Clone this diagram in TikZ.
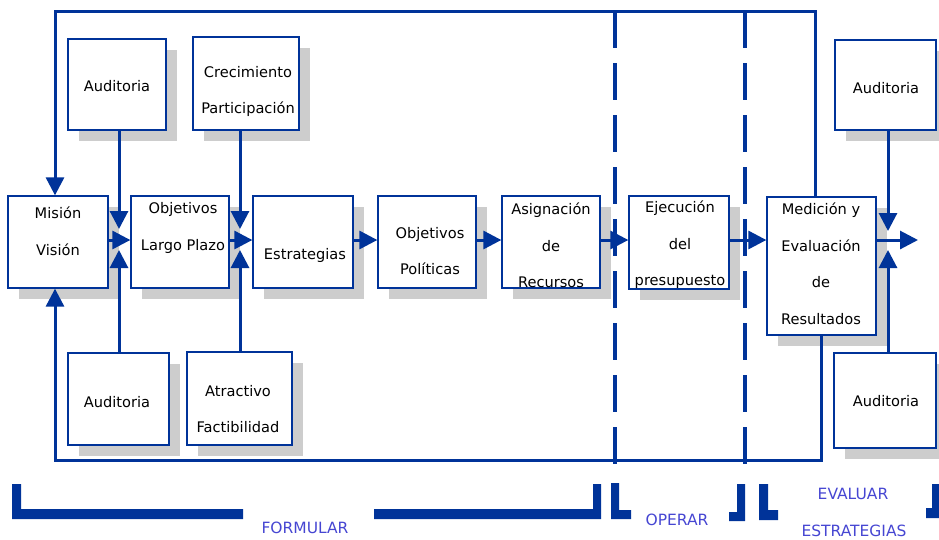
\documentclass[tikz,border=0pt]{standalone}
\usepackage{fontspec}
\setmainfont{DejaVu Sans}
\usetikzlibrary{arrows.meta,shadows}
\definecolor{lineblue}{RGB}{0,51,153}
\definecolor{labelblue}{RGB}{70,70,210}
\definecolor{shade}{RGB}{205,205,205}
\begin{document}
\begin{tikzpicture}[x=1pt,y=-1pt,
  box/.style={draw=lineblue,line width=1.3pt,fill=white,inner sep=0pt,
    drop shadow={shadow xshift=11pt,shadow yshift=-11pt,fill=shade,opacity=1}},
  txt/.style={font=\fontsize{14.6}{36.5}\selectfont,align=center,inner sep=0pt,text=black},
  flow/.style={draw=lineblue,line width=3pt,-{Triangle[length=18pt,width=18pt]}},
  phase/.style={draw=lineblue,line width=4pt,dash pattern=on 37pt off 15pt},
  bracket/.style={fill=lineblue},
  tag/.style={font=\fontsize{15.5}{15.5}\selectfont,text=labelblue,inner sep=0pt}
]
\useasboundingbox (0,0) rectangle (939,539);

% phase separators
\coordinate (p1t) at (615,11);
\coordinate (p1b) at (615,470);
\coordinate (p2t) at (745,11);
\coordinate (p2b) at (745,470);
\draw[phase] (p1t) -- (p1b);
\draw[phase] (p2t) -- (p2b);

% boxes
\node[box,minimum width=100pt,minimum height=92pt] (mision) at (58,242) {};
\node[box,minimum width=98pt,minimum height=92pt] (objlp) at (180,242) {};
\node[box,minimum width=100pt,minimum height=92pt] (estrat) at (303,242) {};
\node[box,minimum width=98pt,minimum height=92pt] (objpol) at (427,242) {};
\node[box,minimum width=98pt,minimum height=92pt] (asig) at (551,242) {};
\node[box,minimum width=100pt,minimum height=93pt] (ejec) at (679,242.5) {};
\node[box,minimum width=109pt,minimum height=138pt] (medic) at (821.5,266) {};
\node[box,minimum width=98pt,minimum height=91pt] (audtl) at (117,84.5) {};
\node[box,minimum width=106pt,minimum height=93pt] (crec) at (246,83.5) {};
\node[box,minimum width=101pt,minimum height=92pt] (audbl) at (118.5,399) {};
\node[box,minimum width=105pt,minimum height=93pt] (atrac) at (239.5,398.5) {};
\node[box,minimum width=101pt,minimum height=90pt] (audtr) at (885.5,85) {};
\node[box,minimum width=102pt,minimum height=95pt] (audbr) at (885,400.5) {};

% box texts
\node[txt] (mision-t) at (58,231.5) {Misión\\Visión};
\node[txt] (objlp-t) at (183,228) {Objetivos\\Largo Plazo};
\node[txt] (estrat-t) at (305,255) {Estrategias};
\node[txt] (objpol-t) at (430,251) {Objetivos\\Políticas};
\node[txt] (asig-t) at (551,245.5) {Asignación\\de\\Recursos};
\node[txt] (ejec-t) at (680,245) {Ejecución\\del\\presupuesto};
\node[txt] (medic-t) at (821,264) {Medición y\\Evaluación\\de\\Resultados};
\node[txt] (audtl-t) at (117,86) {Auditoria};
\node[txt] (crec-t) at (248,91.5) {Crecimiento\\Participación};
\node[txt] (audbl-t) at (117,402) {Auditoria};
\node[txt] (atrac-t) at (238,409) {Atractivo\\Factibilidad};
\node[txt] (audtr-t) at (886,88) {Auditoria};
\node[txt] (audbr-t) at (886,401) {Auditoria};

% main flow
\coordinate (row) at (0,240);
\coordinate (out) at (918,240);
\draw[flow] (mision.east |- row) -- (objlp.west |- row);
\draw[flow] (objlp.east |- row) -- (estrat.west |- row);
\draw[flow] (estrat.east |- row) -- (objpol.west |- row);
\draw[flow] (objpol.east |- row) -- (asig.west |- row);
\draw[flow] (asig.east |- row) -- (ejec.west |- row);
\draw[flow] (ejec.east |- row) -- (medic.west |- row);
\draw[flow] (medic.east |- row) -- (out);

% side inputs
\coordinate (ja-up) at (119,229);
\coordinate (ja-dn) at (119,250);
\coordinate (jb-up) at (240,229);
\coordinate (jb-dn) at (240,250);
\coordinate (jc-up) at (888,231);
\coordinate (jc-dn) at (888,250);
\draw[flow] (audtl.south -| ja-up) -- (ja-up);
\draw[flow] (audbl.north -| ja-dn) -- (ja-dn);
\draw[flow] (crec.south -| jb-up) -- (jb-up);
\draw[flow] (atrac.north -| jb-dn) -- (jb-dn);
\draw[flow] (audtr.south -| jc-up) -- (jc-up);
\draw[flow] (audbr.north -| jc-dn) -- (jc-dn);

% feedback loops
\coordinate (tl) at (55,11);
\coordinate (tr) at (815,11);
\coordinate (bl) at (55,460);
\coordinate (br) at (821,460);
\draw[flow] (medic.north -| tr) -- (tr) -- (tl) -- (mision.north -| tl);
\draw[flow] (medic.south -| br) -- (br) -- (bl) -- (mision.south -| bl);

% phase brackets
\fill[bracket] (12,484) -- (21,484) -- (21,509) -- (243,509) -- (243,519) -- (12,519) -- cycle;
\fill[bracket] (374,509) -- (593,509) -- (593,484) -- (601,484) -- (601,519) -- (374,519) -- cycle;
\fill[bracket] (611,483) -- (619,483) -- (619,510) -- (631,510) -- (631,519) -- (611,519) -- cycle;
\fill[bracket] (737,484) -- (745,484) -- (745,521) -- (729,521) -- (729,512) -- (737,512) -- cycle;
\fill[bracket] (759,484) -- (768,484) -- (768,510) -- (778,510) -- (778,520) -- (759,520) -- cycle;
\fill[bracket] (932,484) -- (939,484) -- (939,518) -- (926,518) -- (926,508) -- (932,508) -- cycle;

% phase labels
\node[tag] (formular) at (305,528) {FORMULAR};
\node[tag] (operar) at (677,520) {OPERAR};
\node[tag] (evaluar) at (853,494) {EVALUAR};
\node[tag] (estrategias) at (854,531) {ESTRATEGIAS};
\end{tikzpicture}
\end{document}
